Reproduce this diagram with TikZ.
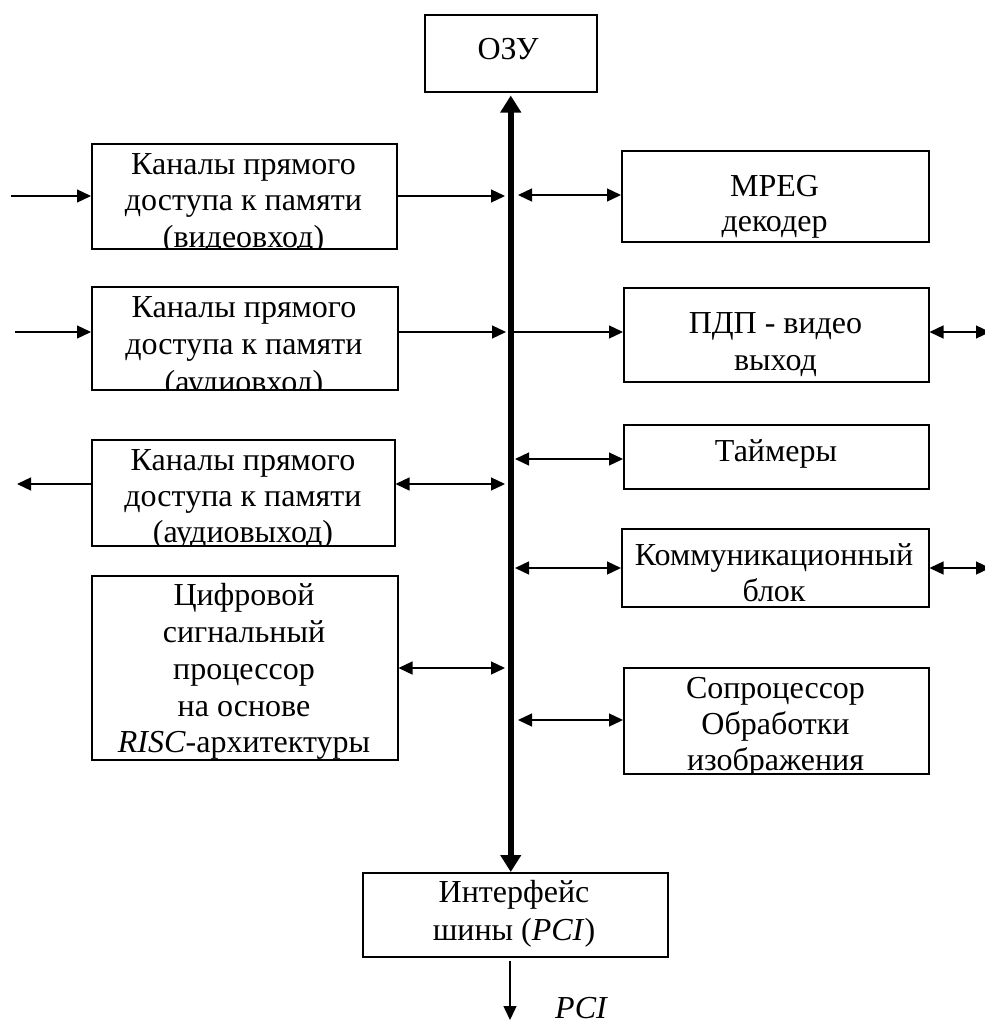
\documentclass[tikz,border=0pt]{standalone}
\usepackage{fontspec}
\setmainfont{Liberation Serif}
\usetikzlibrary{arrows.meta,calc}
% fixed-height strut so the first line's top sits 25pt above its baseline
\newcommand\firstline{\rule{0pt}{25pt}}
\begin{document}
\begin{tikzpicture}[x=1pt,y=-1pt,
  blk/.style={draw, line width=1.5pt, inner sep=0pt, anchor=north west},
  txt/.style={anchor=north, align=center, inner sep=0pt, font=\fontsize{32}{#1}\selectfont},
  txt/.default=36.5,
  tip/.tip={Triangle[length=14pt,width=13pt]},
  one/.style={line width=1.3pt, -tip},
  both/.style={line width=1.3pt, tip-tip},
  bus/.style={line width=6pt, {Triangle[length=17pt,width=20pt]}-{Triangle[length=17pt,width=20pt]}}
]
\useasboundingbox (0,0) rectangle (985,1028);

% blocks
\node[blk, minimum width=172pt, minimum height=77pt]  (ram)  at (424,14)  {};
\node[blk, minimum width=305pt, minimum height=105pt] (v1)   at (91,143)  {};
\node[blk, minimum width=306pt, minimum height=103pt] (a1)   at (91,286)  {};
\node[blk, minimum width=303pt, minimum height=106pt] (a2)   at (91,439)  {};
\node[blk, minimum width=306pt, minimum height=184pt] (dsp)  at (91,575)  {};
\node[blk, minimum width=307pt, minimum height=91pt]  (mpeg) at (621,150) {};
\node[blk, minimum width=305pt, minimum height=94pt]  (pdp)  at (623,287) {};
\node[blk, minimum width=305pt, minimum height=64pt]  (tmr)  at (623,424) {};
\node[blk, minimum width=307pt, minimum height=78pt]  (com)  at (621,528) {};
\node[blk, minimum width=305pt, minimum height=106pt] (cop)  at (623,667) {};
\node[blk, minimum width=305pt, minimum height=84pt]  (pci)  at (362,872) {};

% block captions, cut off at the block borders
\begin{scope}\clip (ram.south west) rectangle (ram.north east);
  \node[txt] (ramt) at (508,34) {\firstline ОЗУ};\end{scope}
\begin{scope}\clip (v1.south west) rectangle (v1.north east);
  \node[txt] (v1t) at (243.5,149) {\firstline Каналы прямого\\доступа к памяти\\(видеовход)};\end{scope}
\begin{scope}\clip (a1.south west) rectangle (a1.north east);
  \node[txt=37.5] (a1t) at (244,292) {\firstline Каналы прямого\\доступа к памяти\\(аудиовход)};\end{scope}
\begin{scope}\clip (a2.south west) rectangle (a2.north east);
  \node[txt=36] (a2t) at (243,445) {\firstline Каналы прямого\\доступа к памяти\\(аудиовыход)};\end{scope}
\begin{scope}\clip (dsp.south west) rectangle (dsp.north east);
  \node[txt=36.7] (dspt) at (244,580.7) {\firstline Цифровой\\сигнальный\\процессор\\на основе\\\textit{RISC}-архитектуры};\end{scope}
\begin{scope}\clip (mpeg.south west) rectangle (mpeg.north east);
  \node[txt=35.7] (mpegt) at (774.5,171) {\firstline MPEG\\декодер};\end{scope}
\begin{scope}\clip (pdp.south west) rectangle (pdp.north east);
  \node[txt=37] (pdpt) at (775.5,308) {\firstline ПДП - видео\\выход};\end{scope}
\begin{scope}\clip (tmr.south west) rectangle (tmr.north east);
  \node[txt] (tmrt) at (776,436) {\firstline Таймеры};\end{scope}
\begin{scope}\clip (com.south west) rectangle (com.north east);
  \node[txt] (comt) at (774,540) {\firstline Коммуникационный\\блок};\end{scope}
\begin{scope}\clip (cop.south west) rectangle (cop.north east);
  \node[txt=36] (copt) at (775.5,673) {\firstline Сопроцессор\\Обработки\\изображения};\end{scope}
\begin{scope}\clip (pci.south west) rectangle (pci.north east);
  \node[txt=38] (pcit) at (514,877) {\firstline Интерфейс\\шины (\textit{PCI})};\end{scope}

% system bus
\draw[bus, shorten <=3pt] (ram.south) -- (ram.south |- pci.north);

% free ends of the links
\coordinate (inV)   at (11,196);
\coordinate (inA)   at (15,332);
\coordinate (outA)  at (17,484);
\coordinate (outP)  at (990,332);
\coordinate (outC)  at (990,568);
\coordinate (outPCI) at (510,1020);
% taps on the bus
\coordinate (bV)  at (505,196);
\coordinate (bM)  at (518,195);
\coordinate (bA)  at (506,332);
\coordinate (bP)  at (513,332);
\coordinate (bA2) at (505,484);
\coordinate (bT)  at (515,459);
\coordinate (bC)  at (515,568);
\coordinate (bD)  at (505,668);
\coordinate (bS)  at (518,720);

% links
\draw[one]  (inV) -- (inV -| v1.west);
\draw[one]  (bV -| v1.east) -- (bV);
\draw[both] (bM) -- (bM -| mpeg.west);
\draw[one]  (inA) -- (inA -| a1.west);
\draw[one]  (bA -| a1.east) -- (bA);
\draw[one]  (bP) -- (bP -| pdp.west);
\draw[both] (outP -| pdp.east) -- (outP);
\draw[one]  (outA -| a2.west) -- (outA);
\draw[both] (bA2 -| a2.east) -- (bA2);
\draw[both] (bT) -- (bT -| tmr.west);
\draw[both] (bC) -- (bC -| com.west);
\draw[both] (outC -| com.east) -- (outC);
\draw[both] (bD -| dsp.east) -- (bD);
\draw[both] (bS) -- (bS -| cop.west);
\draw[one, shorten <=3pt] (outPCI |- pci.south) -- (outPCI);
\node[anchor=base, font=\fontsize{32}{36.5}\selectfont\itshape, inner sep=0pt] (pcil) at (581,1018) {PCI};
\end{tikzpicture}
\end{document}
